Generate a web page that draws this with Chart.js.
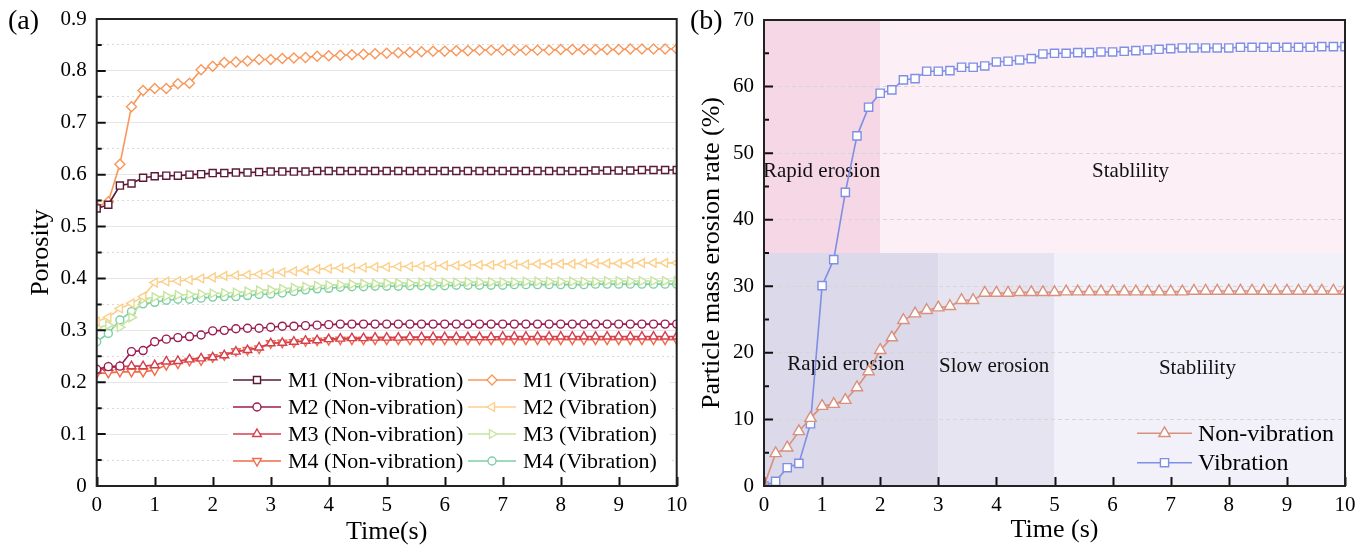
<!DOCTYPE html>
<html>
<head>
<meta charset="utf-8">
<script src="https://cdn.jsdelivr.net/npm/chart.js@4.4.1/dist/chart.umd.min.js"></script>
<style>
  html, body { margin: 0; padding: 0; background: #fff; }
  #wrap { position: relative; width: 1370px; height: 551px; }
  canvas { position: absolute; top: 0; }
  #ca { left: 0; }
  #cb { left: 685px; }
</style>
</head>
<body>
<div id="wrap">
  <canvas id="ca" width="700" height="551"></canvas>
  <canvas id="cb" width="685" height="551"></canvas>
</div>
<script>
// ---- data ----
const times = [0,0.2,0.4,0.6,0.8,1,1.2,1.4,1.6,1.8,2,2.2,2.4,2.6,2.8,3,3.2,3.4,3.6,3.8,4,4.2,4.4,4.6,4.8,5,5.2,5.4,5.6,5.8,6,6.2,6.4,6.6,6.8,7,7.2,7.4,7.6,7.8,8,8.2,8.4,8.6,8.8,9,9.2,9.4,9.6,9.8,10];

// (a) porosity
const m1Non = [0.535,0.542,0.579,0.583,0.594,0.597,0.598,0.598,0.600,0.601,0.603,0.603,0.604,0.604,0.605,0.606,0.606,0.606,0.606,0.607,0.607,0.607,0.607,
  0.607,0.607,0.607,0.607,0.607,0.607,0.607,0.607,0.607,0.607,0.607,0.607,0.607,0.607,0.607,0.607,0.607,0.607,0.607,0.607,0.608,0.608,0.608,0.608,0.609,0.609,0.609,0.609];
const m2Non = [0.225,0.230,0.231,0.259,0.261,0.278,0.283,0.286,0.288,0.291,0.299,0.300,0.303,0.304,0.304,0.306,0.308,0.308,0.309,0.310,0.311,0.312,0.312,
  0.312,0.312,0.312,0.312,0.312,0.312,0.312,0.312,0.312,0.312,0.312,0.312,0.312,0.312,0.312,0.312,0.312,0.312,0.312,0.312,0.312,0.312,0.312,0.312,0.312,0.312,0.312,0.312];
const m3Non = [0.222,0.228,0.230,0.231,0.231,0.233,0.240,0.241,0.244,0.246,0.248,0.252,0.259,0.262,0.267,0.275,0.276,0.278,0.280,0.281,0.283,0.284,0.285,
  0.285,0.286,0.286,0.286,0.287,0.287,0.287,0.287,0.287,0.287,0.287,0.287,0.288,0.288,0.288,0.288,0.288,0.288,0.288,0.288,0.288,0.288,0.288,0.288,0.288,0.288,0.288,0.288];
const m4Non = [0.217,0.218,0.220,0.220,0.220,0.223,0.233,0.236,0.241,0.242,0.248,0.252,0.260,0.262,0.265,0.275,0.276,0.277,0.279,0.280,0.281,0.282,0.282,
  0.282,0.282,0.282,0.282,0.282,0.282,0.282,0.282,0.282,0.282,0.282,0.282,0.282,0.282,0.282,0.282,0.282,0.282,0.282,0.282,0.282,0.282,0.282,0.282,0.282,0.282,0.282,0.282];
const m1Vib = [0.538,0.548,0.620,0.731,0.762,0.766,0.766,0.775,0.776,0.802,0.809,0.816,0.817,0.819,0.822,0.822,0.824,0.825,0.826,0.828,0.829,0.830,0.831,
  0.832,0.833,0.834,0.835,0.836,0.837,0.838,0.838,0.839,0.839,0.840,0.840,0.840,0.840,0.840,0.840,0.840,0.841,0.841,0.841,0.841,0.841,0.841,0.842,0.842,0.842,0.842,0.842];
const m2Vib = [0.317,0.325,0.342,0.352,0.365,0.392,0.394,0.395,0.397,0.400,0.402,0.405,0.406,0.407,0.408,0.410,0.412,0.414,0.416,0.418,0.419,0.420,0.420,
  0.421,0.422,0.422,0.423,0.423,0.424,0.424,0.425,0.425,0.426,0.426,0.426,0.427,0.427,0.427,0.428,0.428,0.428,0.428,0.429,0.429,0.429,0.429,0.429,0.430,0.430,0.430,0.430];
const m3Vib = [0.305,0.310,0.306,0.325,0.360,0.364,0.366,0.368,0.369,0.370,0.371,0.372,0.373,0.375,0.377,0.378,0.380,0.382,0.384,0.386,0.387,0.388,0.389,
  0.390,0.390,0.391,0.391,0.391,0.392,0.392,0.392,0.392,0.393,0.393,0.393,0.393,0.393,0.394,0.394,0.394,0.394,0.394,0.394,0.394,0.395,0.395,0.395,0.395,0.395,0.395,0.395];
const m4Vib = [0.278,0.294,0.320,0.336,0.351,0.354,0.358,0.360,0.360,0.362,0.364,0.365,0.365,0.367,0.369,0.370,0.372,0.375,0.378,0.380,0.381,0.383,0.384,
  0.384,0.385,0.385,0.385,0.386,0.386,0.386,0.386,0.387,0.387,0.387,0.387,0.387,0.388,0.388,0.388,0.388,0.388,0.388,0.388,0.389,0.389,0.389,0.389,0.389,0.389,0.389,0.389];

// (b) particle mass erosion rate (%)
const erosionNon = [0,4.9,5.75,8.2,10.2,12.0,12.3,12.9,14.8,17.2,20.4,22.3,24.9,25.9,26.4,26.8,27.0,27.9,27.9,29.0,29.0,29.0,29.1,
  29.1,29.1,29.1,29.2,29.2,29.2,29.2,29.2,29.2,29.2,29.2,29.2,29.2,29.2,29.3,29.3,29.3,29.3,29.3,29.3,29.3,29.3,29.3,29.3,29.3,29.3,29.3,29.3];
const erosionVib = [0,0.7,2.75,3.4,9.35,30.1,34.0,44.1,52.6,56.9,59.0,59.5,61.0,61.2,62.3,62.3,62.4,62.9,62.9,63.1,63.7,63.8,64.0,
  64.2,64.9,65.0,65.0,65.1,65.1,65.2,65.2,65.3,65.4,65.5,65.6,65.7,65.8,65.8,65.8,65.8,65.8,65.9,65.9,65.9,65.9,65.9,65.9,65.9,66.0,66.0,66.0];

// erosion phases: [start, end] in s, split at 35 %
const phaseSplit = 35;
const upperPhases = [[0, 2], [2, 10]];
const lowerPhases = [[0, 3], [3, 5], [5, 10]];
const phaseNames = ['Rapid erosion', 'Stablility', 'Rapid erosion', 'Slow erosion', 'Stablility'];
const phaseLabelX = [0.99, 6.31, 1.41, 3.96, 7.46];
const phaseLabelY = [47.2, 47.2, 18.2, 18.0, 17.7];

// ---- styling ----
const SERIF = '"Liberation Serif", "Times New Roman", serif';
Chart.defaults.font.family = SERIF;
Chart.defaults.color = '#000';
Chart.defaults.animation = false;

const pts = vals => times.map((t, i) => ({ x: t, y: vals[i] }));

function series(label, vals, color, style, rot, r) {
  return {
    label, data: pts(vals),
    borderColor: color, borderWidth: 1.6,
    pointStyle: style, pointRotation: rot, pointRadius: r,
    pointBackgroundColor: '#fff', pointBorderColor: color, pointBorderWidth: 1.4,
    tension: 0
  };
}

// frame + inward ticks (major and minor on y)
const frame = {
  id: 'frame',
  afterDatasetsDraw(chart) {
    const { ctx, chartArea: a, scales } = chart;
    const x = scales.x, y = scales.y;
    ctx.save();
    ctx.strokeStyle = '#111';
    ctx.lineWidth = 2;
    ctx.beginPath();
    x.ticks.forEach(t => {
      const px = Math.round(x.getPixelForValue(t.value)) + 0.5;
      ctx.moveTo(px, a.bottom); ctx.lineTo(px, a.bottom - 9);
    });
    y.ticks.forEach((t, i) => {
      const py = y.getPixelForValue(t.value);
      ctx.moveTo(a.left, py); ctx.lineTo(a.left + 9, py);
      if (i < y.ticks.length - 1) {
        const pm = y.getPixelForValue((t.value + y.ticks[i + 1].value) / 2);
        ctx.moveTo(a.left, pm); ctx.lineTo(a.left + 5, pm);
      }
    });
    ctx.stroke();
    ctx.strokeStyle = '#222';
    ctx.strokeRect(a.left, a.top, a.right - a.left, a.bottom - a.top);
    ctx.restore();
  }
};

// panel letter + custom legend
const decor = {
  id: 'decor',
  afterDraw(chart, args, o) {
    const { ctx } = chart;
    ctx.save();
    ctx.font = '28px ' + SERIF;
    ctx.fillStyle = '#000';
    ctx.textBaseline = 'middle';
    ctx.fillText(o.panel, o.panelX, 22);
    const L = o.legend;
    if (L.bg) {
      ctx.fillStyle = '#fff';
      ctx.fillRect(L.bg[0], L.bg[1], L.bg[2], L.bg[3]);
    }
    ctx.font = L.font + 'px ' + SERIF;
    L.items.forEach((di, k) => {
      const ds = chart.data.datasets[di];
      const col = Math.floor(k / L.rows), row = k % L.rows;
      const x0 = L.colX[col], yy = L.rowY0 + row * L.rowGap;
      ctx.strokeStyle = ds.borderColor;
      ctx.lineWidth = 1.6;
      ctx.beginPath(); ctx.moveTo(x0, yy); ctx.lineTo(x0 + L.lineLen, yy); ctx.stroke();
      ctx.fillStyle = '#fff';
      ctx.lineWidth = 1.4;
      if (Chart.helpers && Chart.helpers.drawPoint) {
        Chart.helpers.drawPoint(ctx, { pointStyle: ds.pointStyle, rotation: ds.pointRotation, radius: ds.pointRadius, borderWidth: 1.4 }, x0 + L.lineLen / 2, yy);
      }
      ctx.fillStyle = '#000';
      ctx.textAlign = 'left';
      ctx.fillText(ds.label, x0 + L.textOff, yy + 1);
    });
    ctx.restore();
  }
};

// phase shading + labels for (b)
const phases = {
  id: 'phases',
  beforeDraw(chart) {
    const { ctx, scales: { x, y } } = chart;
    const upperCols = ['#f5d7e5', '#fcf0f6'];
    const lowerCols = ['#dcd9eb', '#e7e4f1', '#f2f1f9'];
    const box = (p, lo, hi, c) => {
      const x0 = x.getPixelForValue(p[0]), x1 = x.getPixelForValue(p[1]);
      const y0 = y.getPixelForValue(hi), y1 = y.getPixelForValue(lo);
      ctx.fillStyle = c; ctx.fillRect(x0, y0, x1 - x0, y1 - y0);
    };
    ctx.save();
    upperPhases.forEach((p, i) => box(p, phaseSplit, y.max, upperCols[i]));
    lowerPhases.forEach((p, i) => box(p, y.min, phaseSplit, lowerCols[i]));
    ctx.restore();
  },
  beforeDatasetsDraw(chart) {
    const { ctx, scales: { x, y } } = chart;
    ctx.save();
    ctx.font = '21px ' + SERIF;
    ctx.fillStyle = '#111';
    ctx.textAlign = 'center';
    ctx.textBaseline = 'middle';
    phaseNames.forEach((n, i) => ctx.fillText(n, x.getPixelForValue(phaseLabelX[i]), y.getPixelForValue(phaseLabelY[i])));
    ctx.restore();
  }
};

const tickFont = { size: 21, family: SERIF };
const fix = (w) => s => { s.width = w; s.paddingTop = 0; s.paddingBottom = 0; };
const fixH = (h) => s => { s.height = h; s.paddingLeft = 0; s.paddingRight = 0; };

// ---- (a) Porosity ----
new Chart(document.getElementById('ca'), {
  type: 'line',
  data: {
    datasets: [
      series('M1 (Non-vibration)', m1Non, '#5a1a36', 'rect', 0, 5),
      series('M2 (Non-vibration)', m2Non, '#9b1d50', 'circle', 0, 4),
      series('M3 (Non-vibration)', m3Non, '#d4404f', 'triangle', 0, 5),
      series('M4 (Non-vibration)', m4Non, '#f26b4b', 'triangle', 180, 5),
      series('M1 (Vibration)', m1Vib, '#f9975a', 'rectRot', 0, 5),
      series('M2 (Vibration)', m2Vib, '#fcd08a', 'triangle', 270, 5),
      series('M3 (Vibration)', m3Vib, '#c6e59f', 'triangle', 90, 5),
      series('M4 (Vibration)', m4Vib, '#7ecfa3', 'circle', 0, 4)
    ]
  },
  options: {
    responsive: false,
    devicePixelRatio: 1,
    layout: { padding: { top: 19, right: 23.3, left: 0, bottom: 0 } },
    plugins: {
      legend: { display: false }, tooltip: { enabled: false },
      decor: {
        panel: '(a)', panelX: 8,
        legend: { items: [0, 1, 2, 3, 4, 5, 6, 7], rows: 4, colX: [233, 468], rowY0: 380, rowGap: 27, lineLen: 48, textOff: 55, font: 22, bg: [228, 366, 442, 109] }
      }
    },
    scales: {
      x: {
        type: 'linear', min: 0, max: 10,
        ticks: { stepSize: 1, font: tickFont, padding: 7 },
        grid: { display: false, drawTicks: false },
        border: { display: false },
        title: { display: true, text: 'Time(s)', font: { size: 26, family: SERIF, lineHeight: 1.2 }, padding: { top: 0, bottom: 3.4 } },
        afterFit: fixH(65)
      },
      y: {
        min: 0, max: 0.9,
        ticks: { stepSize: 0.1, font: tickFont, padding: 10, callback: v => String(+v.toFixed(2)) },
        grid: { color: c => (c.tick && (c.tick.value <= 0 || c.tick.value >= 0.9)) ? 'rgba(0,0,0,0)' : '#e6e6e6', drawTicks: false },
        border: { display: false },
        title: { display: true, text: 'Porosity', font: { size: 26, family: SERIF, lineHeight: 1.2 }, padding: { top: 25.5, bottom: 0 } },
        afterFit: fix(96.7)
      },
      yMinor: {
        position: 'left', min: 0, max: 0.9,
        ticks: { stepSize: 0.05, display: false },
        grid: { color: c => (c.tick && Math.round(c.tick.value * 100) % 10 !== 0) ? '#d9d9d9' : 'rgba(0,0,0,0)', drawTicks: false },
        border: { display: false, dash: [2, 3] },
        afterFit: fix(0)
      }
    }
  },
  plugins: [frame, decor]
});

// ---- (b) Particle mass erosion rate ----
new Chart(document.getElementById('cb'), {
  type: 'line',
  data: {
    datasets: [
      series('Non-vibration', erosionNon, '#d9907c', 'triangle', 0, 6.5),
      series('Vibration', erosionVib, '#7f8fe3', 'rect', 0, 5.8)
    ]
  },
  options: {
    responsive: false,
    devicePixelRatio: 1,
    layout: { padding: { top: 20, right: 25, left: 0, bottom: 0 } },
    plugins: {
      legend: { display: false }, tooltip: { enabled: false },
      decor: {
        panel: '(b)', panelX: 5,
        legend: { items: [0, 1], rows: 2, colX: [452], rowY0: 433.3, rowGap: 29.4, lineLen: 55, textOff: 61, font: 24 }
      }
    },
    scales: {
      x: {
        type: 'linear', min: 0, max: 10,
        ticks: { stepSize: 1, font: tickFont, padding: 7 },
        grid: { display: false, drawTicks: false },
        border: { display: false },
        title: { display: true, text: 'Time (s)', font: { size: 26, family: SERIF, lineHeight: 1.2 }, padding: { top: 0, bottom: 5.4 } },
        afterFit: fixH(65)
      },
      y: {
        min: 0, max: 70,
        ticks: { stepSize: 10, font: tickFont, padding: 10 },
        grid: { color: c => (c.tick && (c.tick.value <= 0 || c.tick.value >= 70)) ? 'rgba(0,0,0,0)' : '#d6d6d6', drawTicks: false },
        border: { display: false, dash: [4, 3] },
        title: { display: true, text: 'Particle mass erosion rate (%)', font: { size: 26, family: SERIF, lineHeight: 1.2 }, padding: { top: 11.4, bottom: 0 } },
        afterFit: fix(79)
      }
    }
  },
  plugins: [phases, frame, decor]
});
</script>
</body>
</html>
